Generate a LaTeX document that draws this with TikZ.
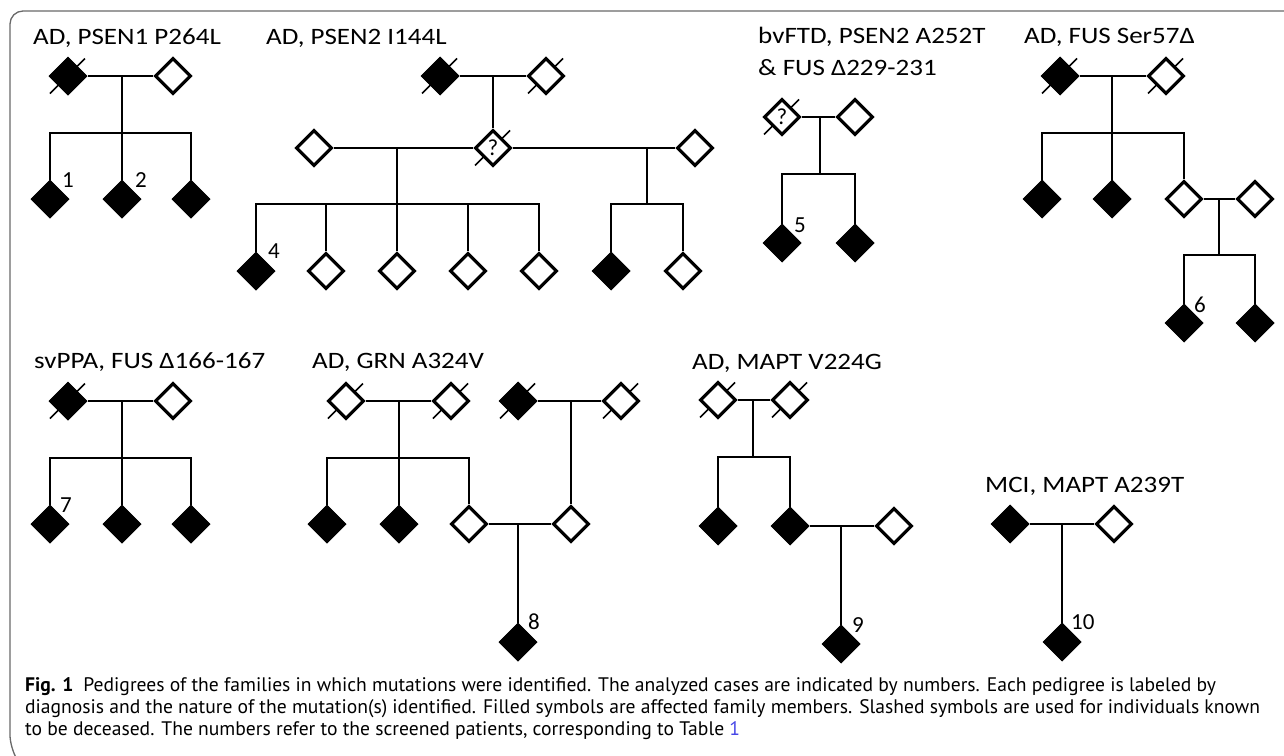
\documentclass[tikz,border=0pt]{standalone}
\usepackage{fontspec}
\usepackage{graphicx}
\setmainfont{Carlito}
\newfontfamily\capfont{PT Sans}
\usetikzlibrary{shapes.geometric,backgrounds}
\definecolor{framegray}{RGB}{105,105,105}
\definecolor{linkblue}{RGB}{70,70,230}
\tikzset{
 aff/.style={diamond,fill=black,draw=black,line width=1pt,minimum width=38pt,minimum height=38pt,inner sep=0pt},
 una/.style={diamond,fill=white,draw=black,line width=3.1pt,minimum width=36pt,minimum height=36pt,inner sep=0pt},
 unk/.style={una,font=\fontsize{23}{23}\selectfont},
 rel/.style={line width=2pt},
 dead/.style={line width=1.7pt},
 ttl/.style={anchor=base west,inner sep=0pt,font=\fontsize{23.5}{27}\selectfont},
 num/.style={anchor=base west,inner sep=0pt,font=\fontsize{23}{26}\selectfont},
 captxt/.style={anchor=base west,inner sep=0pt,font=\capfont\fontsize{19.6}{22}\selectfont},
 framebox/.style={draw=framegray,line width=1.3pt}
}
\newcommand\slashit[1]{\draw[dead] (#1) ++(-18,17.5) -- ++(35,-35);}
\newcommand\ttx[1]{\scalebox{1.15}[1]{#1}}
\begin{document}
\begin{tikzpicture}[x=1pt,y=-1pt]
\useasboundingbox (0,0) rectangle (1284,755);
\draw[framebox,rounded corners=13pt] (1290,11) -- (10,11) -- (10,748) -- (15,756);
% ---------- P1
\node[ttl] (t1) at (33,44) {\ttx{AD, PSEN1 P264L}};
\node[aff] (a1) at (68,76) {};
\node[una] (a2) at (173,76) {};
\node[aff] (a3) at (50,199) {};
\node[aff] (a4) at (122,199) {};
\node[aff] (a5) at (191,199) {};
\coordinate (am) at (122,76);
\coordinate (as) at (122,133);
\draw[rel] (a1) -- (a2);
\draw[rel] (am) -- (as);
\draw[rel] (a3) -- (a3|-as) -- (a5|-as) -- (a5);
\draw[rel] (as) -- (a4);
\node[num] (n1) at (62,187) {1};
\node[num] (n2) at (135,187) {2};
% ---------- P2
\node[ttl] (t2) at (266,44) {\ttx{AD, PSEN2 I144L}};
\node[aff] (b1) at (440,76) {};
\node[una] (b2) at (546,76) {};
\node[unk] (bq) at (493,148) {?};
\node[una] (b3) at (314,148) {};
\node[una] (b4) at (695,148) {};
\node[aff] (b5) at (256,271) {};
\node[una] (b6) at (326,271) {};
\node[una] (b7) at (397,271) {};
\node[una] (b8) at (468,271) {};
\node[una] (b9) at (539,271) {};
\node[aff] (b10) at (611,271) {};
\node[una] (b11) at (683,271) {};
\coordinate (bm) at (493,76);
\coordinate (bl) at (397,148);
\coordinate (bls) at (397,204);
\coordinate (br) at (647,148);
\coordinate (brs) at (647,204);
\draw[rel] (b1) -- (b2);
\draw[rel] (bm) -- (bq);
\draw[rel] (b3) -- (bq);
\draw[rel] (bq) -- (b4);
\draw[rel] (bl) -- (bls);
\draw[rel] (b5) -- (b5|-bls) -- (b9|-bls) -- (b9);
\draw[rel] (b6|-bls) -- (b6);
\draw[rel] (bls) -- (b7);
\draw[rel] (b8|-bls) -- (b8);
\draw[rel] (br) -- (brs);
\draw[rel] (b10) -- (b10|-brs) -- (b11|-brs) -- (b11);
\node[num] (n4) at (268,258) {4};
% ---------- P3
\node[ttl] (t3a) at (758,43) {\ttx{bvFTD, PSEN2 A252T}};
\node[ttl] (t3b) at (758,75) {\ttx{\& FUS Δ229-231}};
\node[unk] (c1) at (782,117) {?};
\node[una] (c2) at (855,117) {};
\node[aff] (c3) at (782,243) {};
\node[aff] (c4) at (855,243) {};
\coordinate (cm) at (820,117);
\coordinate (cs) at (820,174);
\draw[rel] (c1) -- (c2);
\draw[rel] (cm) -- (cs);
\draw[rel] (c3) -- (c3|-cs) -- (c4|-cs) -- (c4);
\node[num] (n5) at (794,232) {5};
% ---------- P4
\node[ttl] (t4) at (1024,43) {\ttx{AD, FUS Ser57Δ}};
\node[aff] (d1) at (1060,76) {};
\node[una] (d2) at (1166,76) {};
\node[aff] (d3) at (1042,199) {};
\node[aff] (d4) at (1112,199) {};
\node[una] (d5) at (1184,199) {};
\node[una] (d6) at (1255,199) {};
\node[aff] (d7) at (1184,323) {};
\node[aff] (d8) at (1255,323) {};
\coordinate (dm) at (1112,76);
\coordinate (ds) at (1112,133);
\coordinate (dm2) at (1219,199);
\coordinate (ds2) at (1219,255);
\draw[rel] (d1) -- (d2);
\draw[rel] (dm) -- (ds);
\draw[rel] (d3) -- (d3|-ds) -- (d5|-ds) -- (d5);
\draw[rel] (ds) -- (d4);
\draw[rel] (d5) -- (d6);
\draw[rel] (dm2) -- (ds2);
\draw[rel] (d7) -- (d7|-ds2) -- (d8|-ds2) -- (d8);
\node[num] (n6) at (1194,312) {6};
% ---------- P5
\node[ttl] (t5) at (34,368) {\ttx{svPPA, FUS Δ166-167}};
\node[aff] (e1) at (68,401) {};
\node[una] (e2) at (173,401) {};
\node[aff] (e3) at (50,524) {};
\node[aff] (e4) at (122,524) {};
\node[aff] (e5) at (191,524) {};
\coordinate (em) at (122,401);
\coordinate (es) at (122,458);
\draw[rel] (e1) -- (e2);
\draw[rel] (em) -- (es);
\draw[rel] (e3) -- (e3|-es) -- (e5|-es) -- (e5);
\draw[rel] (es) -- (e4);
\node[num] (n7) at (60,512) {7};
% ---------- P6
\node[ttl] (t6) at (312,368) {\ttx{AD, GRN A324V}};
\node[una] (f1) at (346,401) {};
\node[una] (f2) at (451,401) {};
\node[aff] (f3) at (327,524) {};
\node[aff] (f4) at (399,524) {};
\node[una] (f5) at (469,524) {};
\node[aff] (f6) at (518,401) {};
\node[una] (f7) at (621,401) {};
\node[una] (f8) at (571,524) {};
\node[aff] (f9) at (518,642) {};
\coordinate (fm) at (399,401);
\coordinate (fs) at (399,458);
\coordinate (fm2) at (571,401);
\coordinate (fm3) at (518,524);
\draw[rel] (f1) -- (f2);
\draw[rel] (fm) -- (fs);
\draw[rel] (f3) -- (f3|-fs) -- (f5|-fs) -- (f5);
\draw[rel] (fs) -- (f4);
\draw[rel] (f6) -- (f7);
\draw[rel] (fm2) -- (f8);
\draw[rel] (f5) -- (f8);
\draw[rel] (fm3) -- (f9);
\node[num] (n8) at (528,629) {8};
% ---------- P7
\node[ttl] (t7) at (692,369) {\ttx{AD, MAPT V224G}};
\node[una] (g1) at (718,400) {};
\node[una] (g2) at (790,400) {};
\node[aff] (g3) at (718,526) {};
\node[aff] (g4) at (790,526) {};
\node[una] (g5) at (894,526) {};
\node[aff] (g6) at (841,644) {};
\coordinate (gm) at (753,400);
\coordinate (gs) at (753,457);
\coordinate (gm2) at (841,526);
\draw[rel] (g1) -- (g2);
\draw[rel] (gm) -- (gs);
\draw[rel] (g3) -- (g3|-gs) -- (g4|-gs) -- (g4);
\draw[rel] (g4) -- (g5);
\draw[rel] (gm2) -- (g6);
\node[num] (n9) at (852,632) {9};
% ---------- P8
\node[ttl] (t8) at (985,492) {\ttx{MCI, MAPT A239T}};
\node[aff] (h1) at (1010,524) {};
\node[una] (h2) at (1114,524) {};
\node[aff] (h3) at (1062,642) {};
\coordinate (hm) at (1062,524);
\draw[rel] (h1) -- (h2);
\draw[rel] (hm) -- (h3);
\node[num] (n10) at (1071,629) {10};
% ---------- deceased slashes (behind symbols)
\begin{pgfonlayer}{background}
\slashit{a1}
\slashit{b1}\slashit{b2}\slashit{bq}
\slashit{c1}
\slashit{d1}\slashit{d2}
\slashit{e1}
\slashit{f1}\slashit{f2}\slashit{f6}\slashit{f7}
\slashit{g1}\slashit{g2}
\end{pgfonlayer}
% ---------- caption
\node[captxt] (cap1) at (25,691) {\textbf{Fig. 1}\hspace{10pt}Pedigrees of the families in which mutations were identified. The analyzed cases are indicated by numbers. Each pedigree is labeled by};
\node[captxt] (cap2) at (25,713) {diagnosis and the nature of the mutation(s) identified. Filled symbols are affected family members. Slashed symbols are used for individuals known};
\node[captxt] (cap3) at (25,735) {to be deceased. The numbers refer to the screened patients, corresponding to Table \textcolor{linkblue}{1}};
\end{tikzpicture}
\end{document}
